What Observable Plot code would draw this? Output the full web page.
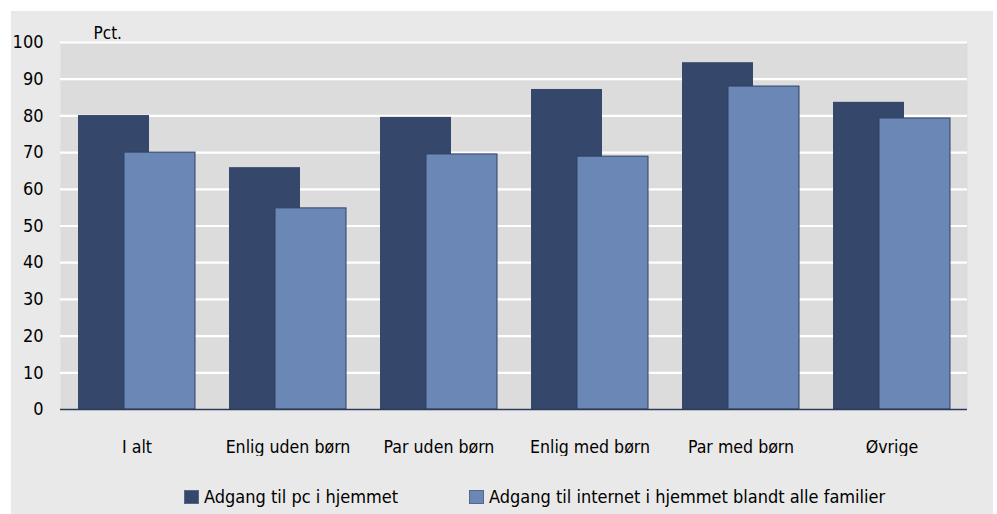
<!DOCTYPE html>
<html>
<head>
<meta charset="utf-8">
<script src="https://cdn.jsdelivr.net/npm/d3@7"></script>
<script src="https://cdn.jsdelivr.net/npm/@observablehq/plot@0.6"></script>
<style>
  html, body { margin: 0; padding: 0; background: #ffffff; }
  #panel {
    position: absolute; left: 11px; top: 11px; width: 982px; height: 503px;
    background: #e9e9e9;
    font-family: "DejaVu Sans Condensed", "Liberation Sans Narrow", "Liberation Sans", sans-serif;
  }
  #legend {
    display: flex; align-items: center; padding-left: 173px; gap: 71px;
    font-size: 18px; line-height: 22px; color: #000; margin-top: 30px;
  }
  .item { display: flex; align-items: center; }
  .swatch { width: 15px; height: 14px; margin-right: 5px; box-sizing: border-box; border: 1px solid #55688a; }
</style>
</head>
<body>
<div id="panel">
  <div id="chart"></div>
  <div id="legend"></div>
</div>
<script>
const categories = ["I alt", "Enlig uden børn", "Par uden børn", "Enlig med børn", "Par med børn", "Øvrige"];
const pcValues = [80.1, 65.9, 79.6, 87.2, 94.5, 83.7];
const internetValues = [70.0, 54.8, 69.5, 68.9, 88.0, 79.3];
const seriesNames = ["Adgang til pc i hjemmet", "Adgang til internet i hjemmet blandt alle familier"];
const seriesColors = ["#35486b", "#6b87b6"];
const yTicks = [0, 10, 20, 30, 40, 50, 60, 70, 80, 90, 100];
const yUnit = "Pct.";

const pcData = categories.map((c, i) => ({category: c, value: pcValues[i]}));
const netData = categories.map((c, i) => ({category: c, value: internetValues[i]}));

const font = '"DejaVu Sans Condensed", "Liberation Sans Narrow", "Liberation Sans", sans-serif';

const chart = Plot.plot({
  width: 982,
  height: 445,
  marginLeft: 49,
  marginRight: 26,
  marginTop: 31,
  marginBottom: 47,
  style: {background: "transparent", fontFamily: font, fontSize: "17px", color: "#000"},
  x: {domain: categories, paddingInner: 0.53, paddingOuter: 0.265, label: null},
  y: {domain: [0, 100], label: null},
  marks: [
    Plot.frame({fill: "#dcdcdc", stroke: null}),
    Plot.ruleY(yTicks.filter(d => d > 0), {stroke: "#ffffff", strokeWidth: 2.2}),
    Plot.barY(pcData, {x: "category", y: "value", fill: seriesColors[0], dx: -23}),
    Plot.barY(netData, {x: "category", y: "value", fill: seriesColors[1], stroke: "#2f4163", strokeWidth: 1, dx: 23}),
    Plot.ruleY([0], {stroke: "#2c3b58", strokeWidth: 1.5}),
    Plot.axisY({ticks: yTicks, tickSize: 0, tickPadding: 17, fontSize: 18, label: null}),
    Plot.axisX({tickSize: 0, tickPadding: 31, fontSize: 17.6, label: null}),
    Plot.text([yUnit], {frameAnchor: "top-left", textAnchor: "start", lineAnchor: "bottom", dx: 33, dy: -4, fontSize: 17})
  ]
});
document.getElementById("chart").appendChild(chart);

const legend = document.getElementById("legend");
seriesNames.forEach((name, i) => {
  const item = document.createElement("div");
  item.className = "item";
  const sw = document.createElement("span");
  sw.className = "swatch";
  sw.style.background = seriesColors[i];
  const label = document.createElement("span");
  label.textContent = name;
  item.appendChild(sw);
  item.appendChild(label);
  legend.appendChild(item);
});
</script>
</body>
</html>
